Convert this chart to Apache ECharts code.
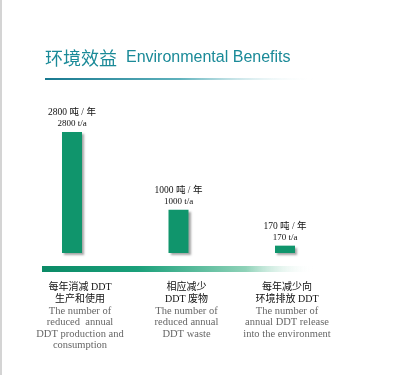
<!DOCTYPE html>
<html><head><meta charset="utf-8">
<script src="https://cdn.jsdelivr.net/npm/echarts@6/dist/echarts.min.js"></script>
<style>html,body{margin:0;padding:0;background:#fff}#c{width:409px;height:375px}</style>
</head><body><div id="c"></div>
<script>
var categoriesCn = ['每年消减 DDT\n生产和使用', '相应减少\nDDT 废物', '每年减少向\n环境排放 DDT'];
var categoriesEn = ['The number of\nreduced  annual\nDDT production and\nconsumption', 'The number of\nreduced annual\nDDT waste', 'The number of\nannual DDT release\ninto the environment'];
var values = [2800, 1000, 170];
var unitCn = '吨 / 年';
var unitEn = 't/a';
var labelShift = [16, 16, 4];

var chart = echarts.init(document.getElementById('c'));
var serif = '"Liberation Serif", "Noto Sans CJK SC", serif';
chart.setOption({
  animation: false,
  title: {
    left: 40, top: 44,
    text: '{cn|环境效益}{en|Environmental Benefits}',
    textStyle: {
      fontWeight: 'normal',
      rich: {
        cn: {fontFamily: '"Noto Sans CJK SC"', fontSize: 18, fontWeight: 'normal', color: '#1a8a98'},
        en: {fontFamily: '"Liberation Sans", Arial', fontSize: 16, fontWeight: 'normal', color: '#1a8a98', padding: [0, 0, 0, 9]}
      }
    }
  },
  graphic: [
    {type: 'rect', left: 0, top: 0, shape: {width: 2, height: 375}, style: {fill: '#d4d4d4'}},
    {type: 'rect', left: 45, top: 78, shape: {width: 270, height: 2},
     style: {fill: new echarts.graphic.LinearGradient(0, 0, 1, 0, [{offset: 0, color: '#17788f'}, {offset: 0.5, color: '#5fb2bd'}, {offset: 1, color: 'rgba(255,255,255,0)'}])}},
    {type: 'rect', left: 42, top: 266, shape: {width: 272, height: 6},
     style: {fill: new echarts.graphic.LinearGradient(0, 0, 1, 0, [{offset: 0, color: '#0b8a66'}, {offset: 0.35, color: '#1aa07a'}, {offset: 0.75, color: '#8fd2b8'}, {offset: 1, color: 'rgba(255,255,255,0)'}])}}
  ],
  grid: {left: 18.75, right: 70.75, top: 132, bottom: 122},
  xAxis: {
    type: 'category',
    data: categoriesCn.map(function (c, i) {
      return {value: String(i), textStyle: {padding: [0, 0, 0, labelShift[i]]}};
    }),
    axisLine: {show: false}, axisTick: {show: false},
    axisLabel: {
      margin: 28, interval: 0,
      formatter: function (v) {
        var i = +v;
        return '{cn|' + categoriesCn[i].split('\n').join('}\n{cn|') + '}\n{en|' + categoriesEn[i].split('\n').join('}\n{en|') + '}';
      },
      rich: {
        cn: {fontFamily: serif, fontSize: 10, fontWeight: 'normal', color: '#111', lineHeight: 12, align: 'center'},
        en: {fontFamily: serif, fontSize: 10.5, color: '#666', lineHeight: 11.5, align: 'center'}
      }
    }
  },
  yAxis: {type: 'value', min: 0, max: 2800, show: false, splitLine: {show: false}},
  series: [{
    type: 'bar', data: values, barWidth: 20,
    itemStyle: {color: '#10956c', shadowColor: 'rgba(0,0,0,0.35)', shadowOffsetX: 2, shadowOffsetY: 2, shadowBlur: 2},
    label: {
      show: true, position: 'top', distance: 3,
      formatter: function (p) {
        return '{a|' + p.value + ' ' + unitCn + '}\n{b|' + p.value + ' ' + unitEn + '}';
      },
      rich: {
        a: {fontFamily: serif, fontSize: 9.5, color: '#111', lineHeight: 11, align: 'center'},
        b: {fontFamily: serif, fontSize: 9, color: '#111', lineHeight: 11, align: 'center'}
      }
    }
  }]
});
</script></body></html>
